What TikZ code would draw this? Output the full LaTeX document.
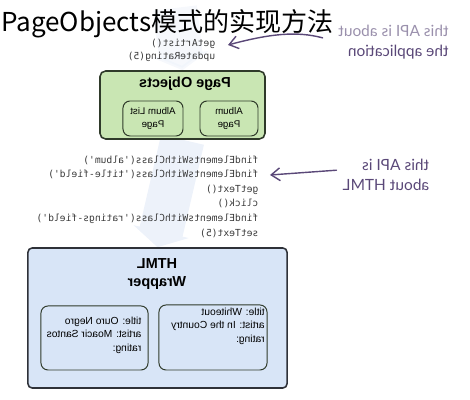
\documentclass[tikz,border=0pt]{standalone}
\usepackage{fontspec}
\setmainfont{Liberation Sans}
\setmonofont{DejaVu Sans Mono}
\newfontfamily\cjk{Noto Sans CJK SC}
\newfontfamily\hand{Lato}
\usepackage{tikz}
\usetikzlibrary{arrows.meta,positioning,backgrounds}
\definecolor{pogreen}{HTML}{C9E6B3}
\definecolor{poedge}{HTML}{2F3A2A}
\definecolor{wrblue}{HTML}{D8E5F7}
\definecolor{wredge}{HTML}{2E3138}
\definecolor{notepurple}{HTML}{5A4878}
\definecolor{notegrey}{HTML}{9A90AC}
\definecolor{codegrey}{HTML}{3A3A3A}
\definecolor{flowblue}{HTML}{EDF2FA}
\tikzset{
  mirror/.style={xscale=-1},
  layer/.style={draw=poedge, line width=1.1pt, rounded corners=4pt, inner sep=0pt},
  objbox/.style={layer, fill=pogreen},
  wrapbox/.style={layer, draw=wredge, fill=wrblue, rounded corners=3pt},
  itembox/.style={draw=poedge, line width=0.7pt, rounded corners=5pt, inner sep=0pt,
                  font=\fontsize{6.9}{8.7}\selectfont, align=center, mirror},
  rowtext/.style={font=\fontsize{7.3}{9.6}\selectfont, align=left, mirror, inner sep=0pt},
  head/.style={font=\bfseries\fontsize{10.3}{12.8}\selectfont, align=center, mirror, inner sep=0pt},
  calls/.style={font=\ttfamily\fontsize{6.9}{10.4}\selectfont, text=codegrey, align=left,
                mirror, inner sep=0pt},
  note/.style={font=\hand\fontsize{11}{14.5}\selectfont, align=left, mirror, inner sep=0pt},
  hint/.style={-{Straight Barb[length=2.2mm,width=3.2mm]}, draw=notepurple, line width=1pt,
               line cap=round},
  bigflow/.style={-{Triangle[length=4mm,width=14mm]}, draw=flowblue, line width=1.1cm},
}

\begin{document}
\begin{tikzpicture}[x=0.025cm, y=-0.025cm]
  \useasboundingbox (0,0) rectangle (470,400);

  % page objects layer
  \node[objbox, minimum width=4.125cm, minimum height=1.7cm] (po) at (182.5,105) {};
  \node[head] (potitle) at (185,84) {Page Objects};
  \node[itembox, minimum width=1.5cm, minimum height=0.875cm] (albumlist) at (153,118.5)
    {Album List\\Page};
  \node[itembox, minimum width=1.45cm, minimum height=0.875cm] (album) at (229,118.5)
    {Album\\Page};

  % html wrapper layer
  \node[wrapbox, minimum width=6.475cm, minimum height=3.5cm] (wrap) at (157.5,318) {};
  \node[head] (wraptitle) at (157,274.5) {HTML\\Wrapper};
  \node[itembox, minimum width=2.675cm, minimum height=1.6cm] (negro) at (94.5,338) {};
  \node[rowtext] (negrotxt) at (94,335) {title: Ouro Negro\\artist: Moacir Santos\\rating:};
  \node[itembox, minimum width=2.7cm, minimum height=1.625cm] (whiteout) at (213,337.5) {};
  \node[rowtext] (whiteouttxt) at (218,326) {title: Whiteout\\artist: In the Country\\rating:};

  % calls between the layers
  \node[calls, font=\ttfamily\fontsize{6.9}{9.3}\selectfont] (appcalls) at (171.5,50.5)
    {getArtist()\\updateRating(5)};
  \node[calls] (htmlcalls) at (147.5,196.5)
    {findElementsWithClass('album')\\findElementsWithClass('title-field')\\getText()\\click()\\
     findElementsWithClass('ratings-field')\\setText(5)};

  % notes
  \node[note] (appnote) at (393.5,42)
    {\textcolor{notegrey}{this API is about}\\\textcolor{notepurple}{the application}};
  \node[note, text=notepurple] (htmlnote) at (386,175) {this API is\\about HTML};

  \coordinate (apptip) at (228,45);
  \coordinate (htmltip) at (270,175);
  \draw[hint, shorten <=4mm] (appnote.east) to[out=165, in=15] (apptip);
  \draw[hint] ([xshift=-1.5mm,yshift=1.2mm]htmlnote.east) -- (htmltip);

  \begin{scope}[on background layer]
    \coordinate (feed) at (175,8);
    \draw[bigflow, opacity=0.5] (feed) -- (po.north);
    \draw[bigflow] (po.south) -- (wrap.north);
  \end{scope}

  \node[font=\cjk\fontsize{18.5}{22}\selectfont, anchor=base west, inner sep=0pt] (title)
    at (1,32) {PageObjects模式的实现方法};
\end{tikzpicture}
\end{document}
